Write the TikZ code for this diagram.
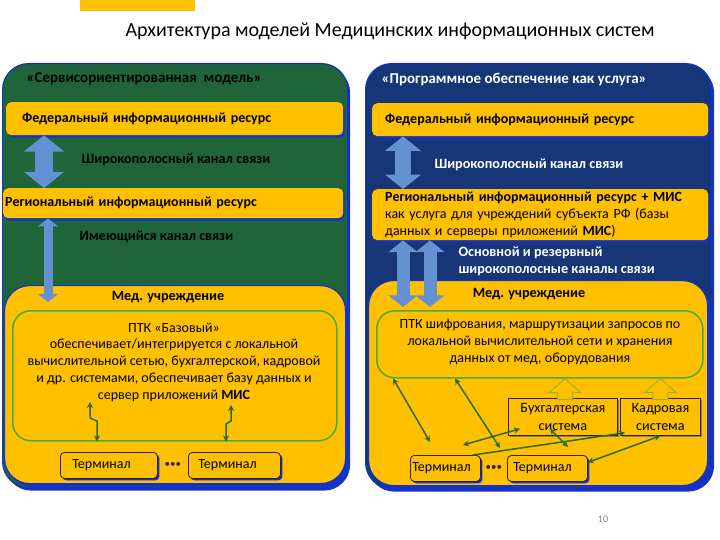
\documentclass[tikz,border=0pt]{standalone}
\usepackage{fontspec}
\setmainfont{Carlito}
\usetikzlibrary{arrows.meta,shadows,calc}

\definecolor{gold}{RGB}{255,192,0}
\definecolor{panelgreen}{RGB}{32,100,58}
\definecolor{panelnavy}{RGB}{22,54,120}
\definecolor{edgeblue}{RGB}{20,50,200}
\definecolor{arrowblue}{RGB}{100,145,210}
\definecolor{linegreen}{RGB}{70,170,60}
\definecolor{wiregreen}{RGB}{45,105,50}
\definecolor{termedge}{RGB}{50,30,60}

\tikzset{
  panel/.style={anchor=north west, rounded corners=26pt, draw=edgeblue, line width=1.2pt,
    drop shadow={shadow xshift=2.5pt, shadow yshift=-3pt, fill=edgeblue, opacity=1}},
  bar/.style={anchor=north west, fill=gold, rounded corners=5pt, align=left,
    font=\bfseries\fontsize{14}{17}\selectfont,
    drop shadow={shadow xshift=1.5pt, shadow yshift=-2.5pt, fill=edgeblue, opacity=1}},
  bt/.style={font=\bfseries\fontsize{14.2}{17}\selectfont},
  head/.style={anchor=west, font=\bfseries\fontsize{15}{17}\selectfont},
  ptk/.style={anchor=north west, draw=linegreen, line width=1.5pt, rounded corners=18pt},
  term/.style={anchor=north west, fill=gold, draw=termedge, line width=0.8pt, rounded corners=4pt,
    align=left, minimum height=26pt,
    drop shadow={shadow xshift=2pt, shadow yshift=-2pt, fill=edgeblue, opacity=1}},
  sysbox/.style={anchor=north west, fill=gold, draw=termedge, line width=0.8pt, align=center,
    font=\fontsize{14.2}{18}\selectfont, drop shadow={shadow xshift=1.5pt, shadow yshift=-1.5pt, fill=gray, opacity=1}},
  fatarrow/.style={arrowblue, line width=#1,
    {Triangle[width=2.2*#1,length=0.9*#1]}-{Triangle[width=2.2*#1,length=0.9*#1]}},
  hollow/.style={draw=linegreen!55!gold, fill=gold, line width=1pt, line join=miter},
  wire/.style={wiregreen, line width=1.5pt, {Stealth[length=6pt,width=6pt]}-{Stealth[length=6pt,width=6pt]}}
}

\begin{document}
\begin{tikzpicture}[x=1pt, y=-1pt, font=\fontsize{14}{16.8}\selectfont]
    \useasboundingbox (0,0) rectangle (720,540);

    % 标题
    \fill[gold] (80,0) rectangle (195,11);
    \node (title) at (390,31) {\fontsize{20}{22}\selectfont Архитектура моделей Медицинских информационных систем};

    % 两个大框
    \node[panel, fill=panelgreen, minimum width=345pt, minimum height=424pt] (panL) at (2,63) {};
    \node[panel, fill=panelnavy, minimum width=346pt, minimum height=425pt] (panR) at (365,63) {};
    \node[head] (headL) at (23,79) {«Сервисориентированная\ \ модель»};
    \node[head, white] (headR) at (378,80) {«Программное обеспечение как услуга»};

    % 左: 资源条
    \node[bar, minimum width=337pt, minimum height=33pt, inner xsep=16pt, text width=305pt] (fedL) at (6,102) {Федеральный информационный ресурс};
    \node[bar, minimum width=340pt, minimum height=30pt, inner xsep=2pt, text width=336pt] (regL) at (3,188) {Региональный информационный ресурс};
    \node[bt, anchor=west] (chanL) at (78,160) {Широкополосный канал связи};
    \node[bt, anchor=west] (oldL) at (76,237) {Имеющийся канал связи};

    % 右: 资源条
    \node[bar, minimum width=336pt, minimum height=33pt, inner xsep=13pt, text width=310pt] (fedR) at (372,103) {Федеральный информационный ресурс};
    \node[bar, minimum width=336pt, minimum height=51pt, inner xsep=13pt, inner ysep=2pt, text width=310pt] (regR) at (372,189)
        {Региональный информационный ресурс + МИС\\
         \mdseries как услуга для учреждений субъекта РФ (базы\\
         \mdseries данных и серверы приложений \bfseries МИС\mdseries)};
    \node[bt, anchor=west, white] (chanR) at (431,165) {Широкополосный канал связи};
    \node[bt, anchor=west, white, align=left] (twinR) at (455,261) {Основной и резервный\\широкополосные каналы связи};

    % 医疗机构
    \node[panel, fill=gold, rounded corners=25pt, minimum width=341pt, minimum height=198pt] (medL) at (4,285) {};
    \node[panel, fill=gold, rounded corners=25pt, minimum width=339pt, minimum height=205pt] (medR) at (368,280) {};
    \node[bt] (labL) at (168,297) {Мед. учреждение};
    \node[bt] (labR) at (529,294) {Мед. учреждение};

    % 蓝色箭头
    \coordinate (cL) at (44,0);
    \draw[fatarrow=18pt] (cL |- fedL.south) -- (cL |- regL.north);
    \coordinate (cR) at (403,0);
    \draw[fatarrow=16pt] (cR |- fedR.south) -- (cR |- regR.north);
    \coordinate (thinL) at (48,302);
    \draw[fatarrow=9pt] (thinL |- regL.south) -- (thinL);
    \coordinate (twin1) at (403,307);
    \coordinate (twin2) at (430,307);
    \draw[fatarrow=13pt] (twin1 |- regR.south) -- (twin1);
    \draw[fatarrow=13pt] (twin2 |- regR.south) -- (twin2);

    % 左: ПТК
    \node[ptk, minimum width=324pt, minimum height=130pt] (ptkL) at (12,310) {};
    \node[align=center] (ptkLtext) at (174,362) {ПТК «Базовый»\\обеспечивает/интегрируется с локальной\\вычислительной сетью, бухгалтерской, кадровой\\и др. системами, обеспечивает базу данных и\\сервер приложений \textbf{МИС}};
    \coordinate (z1) at (90,402);
    \coordinate (z1b) at (97,0);
    \coordinate (z2) at (231,405);
    \coordinate (z2b) at (226,0);
    \draw[wire] (z1) -- ++(0,16) -- ++(7,3) -- (z1b |- ptkL.south);
    \draw[wire] (z2) -- ++(0,16) -- ++(-5,3) -- (z2b |- ptkL.south);

    \node[term, inner xsep=12pt, text width=73pt] (tL1) at (60,452) {Терминал};
    \node[term, inner xsep=10pt, text width=72pt] (tL2) at (188,452) {Терминал};
    \node[termedge, inner sep=0pt, font=\fontsize{11}{11}\selectfont] (dotsL) at ($(tL1.east)!0.5!(tL2.west)$) {\textbullet\textbullet\textbullet};

    % 右: ПТК 与 系统
    \node[ptk, minimum width=326pt, minimum height=67pt] (ptkR) at (376,310) {};
    \node[align=center] (ptkRtext) at (540,342) {ПТК шифрования, маршрутизации запросов по\\локальной вычислительной сети и хранения\\данных от мед, оборудования};
    \node[sysbox, minimum width=109pt, minimum height=37pt] (buh) at (508,398) {Бухгалтерская\\система};
    \node[sysbox, minimum width=80pt, minimum height=37pt] (kadr) at (620,398) {Кадровая\\система};
    \coordinate (upB) at ([xshift=2pt]buh.north |- ptkR.south);
    \coordinate (upK) at (kadr.north |- ptkR.south);
    \draw[hollow] (upB) -- ++(-15.5,14) -- ++(8,0) -- ++(0,7) -- ++(15,0) -- ++(0,-7) -- ++(8,0) -- cycle;
    \draw[hollow] (upK) -- ++(-15.5,14) -- ++(8,0) -- ++(0,7) -- ++(15,0) -- ++(0,-7) -- ++(8,0) -- cycle;

    \node[term, inner xsep=2pt, text width=66pt] (tR1) at (410,455) {Терминал};
    \node[term, inner xsep=6pt, text width=68pt] (tR2) at (507,455) {Терминал};
    \node[termedge, inner sep=0pt, font=\fontsize{11}{11}\selectfont] (dotsR) at ($(tR1.east)!0.5!(tR2.west)$) {\textbullet\textbullet\textbullet};

    % 绿色连线
    \coordinate (w1) at (430,442);
    \coordinate (w2) at (500,448);
    \coordinate (w3) at (463,445);
    \coordinate (w4) at (568,447);
    \draw[wire] ([xshift=17pt]ptkR.south west) -- (w1);
    \draw[wire] ([xshift=79pt]ptkR.south west) -- (w2);
    \draw[wire] (w3) -- ([xshift=12pt,yshift=7pt]buh.south west);
    \draw[wire] ([xshift=42pt,yshift=7pt]buh.south west) -- (w4);
    \draw[wire, -{Stealth[length=6pt,width=6pt]}] ([xshift=-8pt]tR1.north east) -- ([xshift=5pt,yshift=3pt]kadr.south west);
    \draw[wire] ([yshift=6pt]tR2.east) -- (kadr.south);

    \node[gray, font=\fontsize{10}{12}\selectfont] (page) at (603,519) {10};
\end{tikzpicture}
\end{document}
